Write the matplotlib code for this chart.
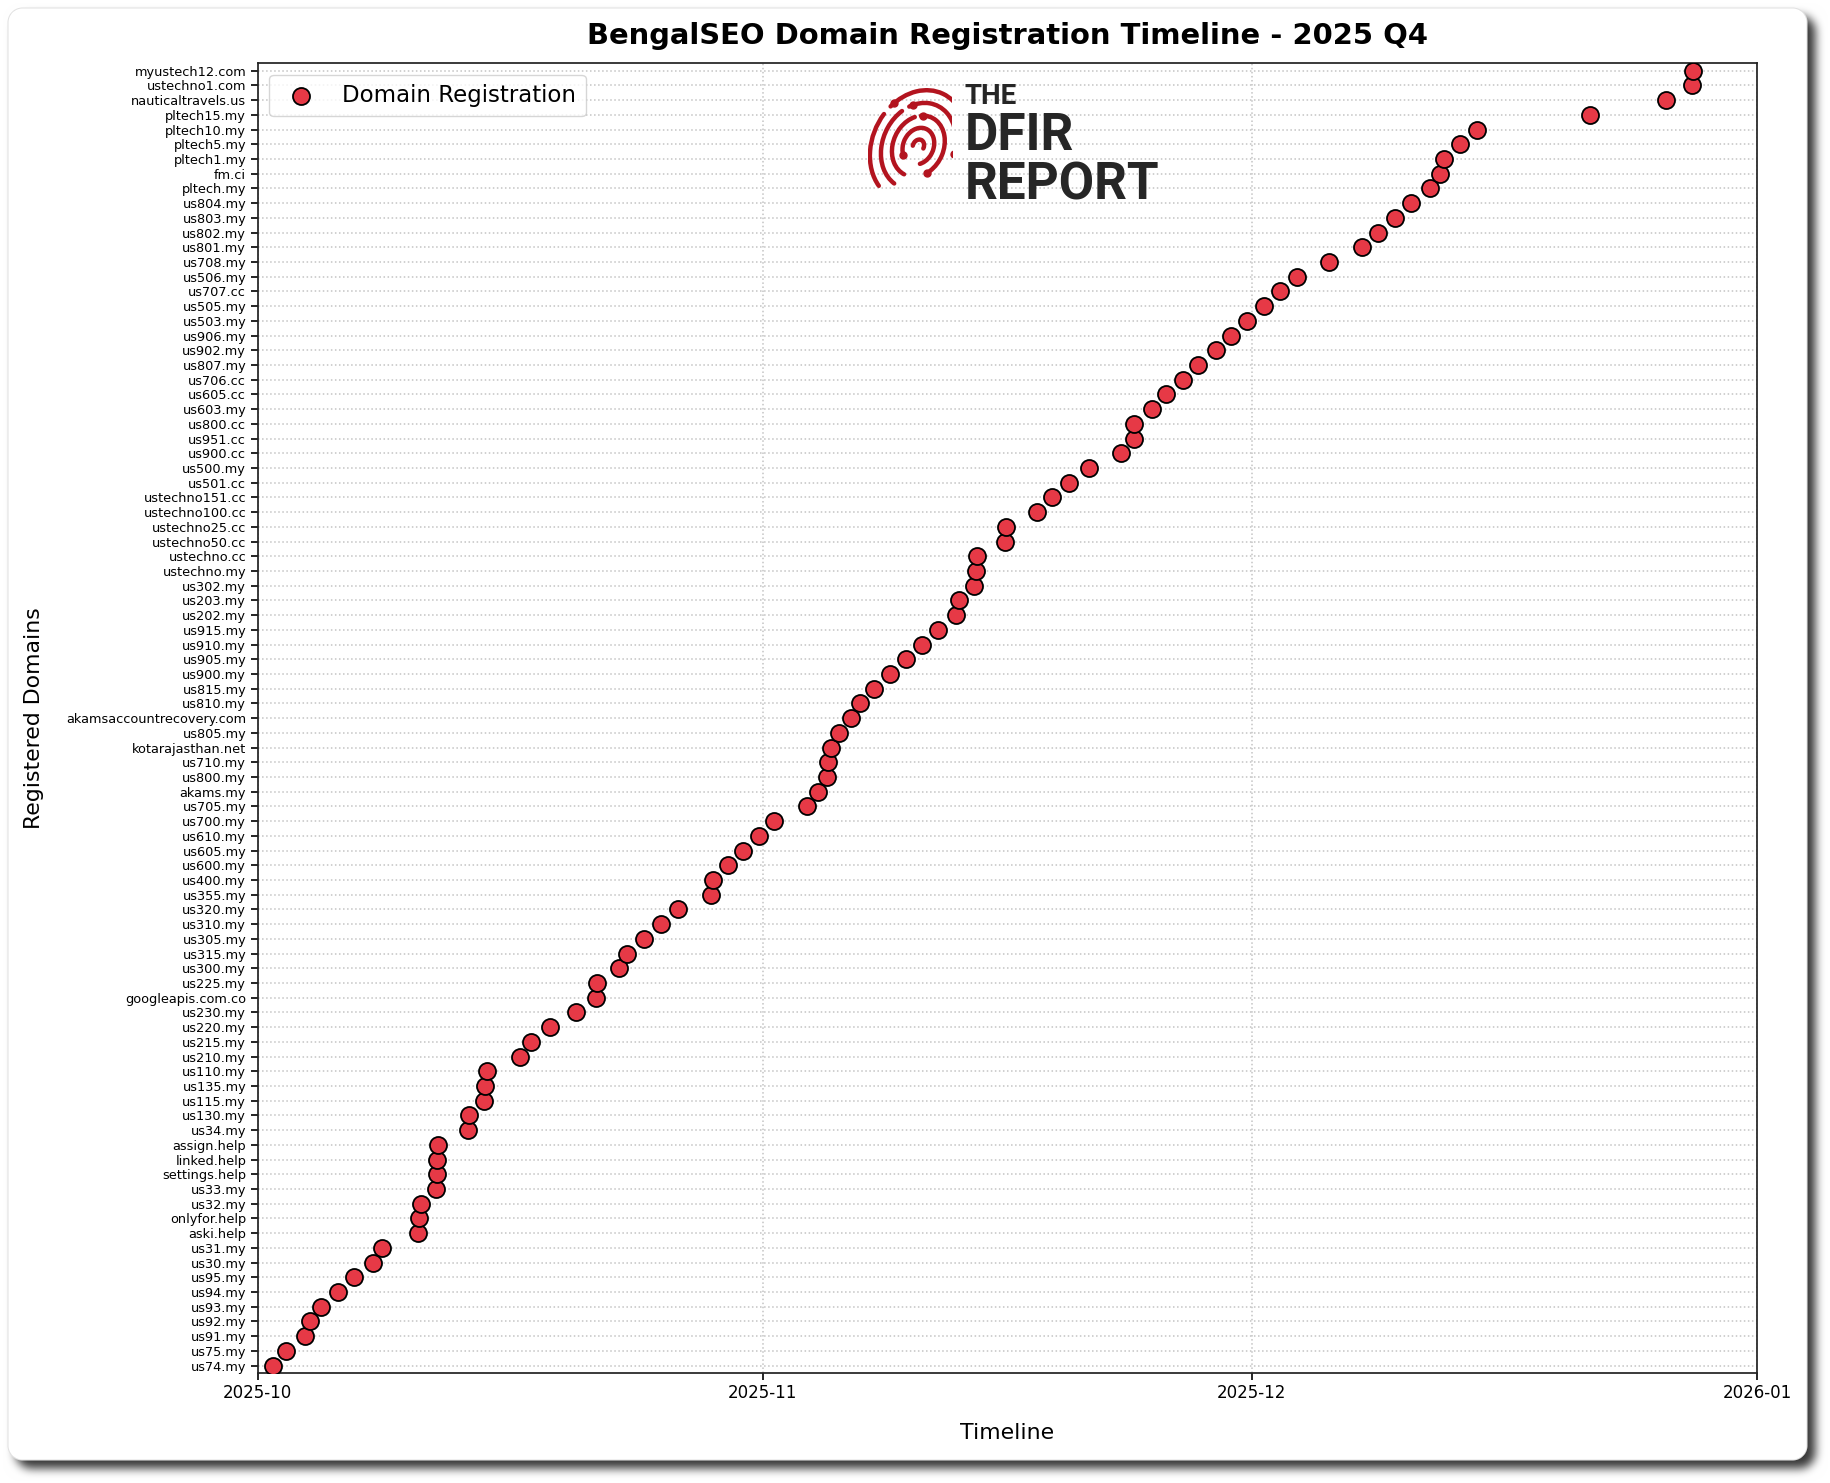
import numpy as np
import pandas as pd
import matplotlib
matplotlib.use("Agg")
import matplotlib.pyplot as plt
import matplotlib.dates as mdates
from matplotlib.patches import Arc

# ---------------- data (bottom row first) ----------------
domains = ["us74.my", "us75.my", "us91.my", "us92.my", "us93.my", "us94.my", "us95.my",
           "us30.my", "us31.my", "aski.help", "onlyfor.help", "us32.my", "us33.my",
           "settings.help", "linked.help", "assign.help", "us34.my", "us130.my", "us115.my",
           "us135.my", "us110.my", "us210.my", "us215.my", "us220.my", "us230.my",
           "googleapis.com.co", "us225.my", "us300.my", "us315.my", "us305.my", "us310.my",
           "us320.my", "us355.my", "us400.my", "us600.my", "us605.my", "us610.my", "us700.my",
           "us705.my", "akams.my", "us800.my", "us710.my", "kotarajasthan.net", "us805.my",
           "akamsaccountrecovery.com", "us810.my", "us815.my", "us900.my", "us905.my",
           "us910.my", "us915.my", "us202.my", "us203.my", "us302.my", "ustechno.my",
           "ustechno.cc", "ustechno50.cc", "ustechno25.cc", "ustechno100.cc", "ustechno151.cc",
           "us501.cc", "us500.my", "us900.cc", "us951.cc", "us800.cc", "us603.my", "us605.cc",
           "us706.cc", "us807.my", "us902.my", "us906.my", "us503.my", "us505.my", "us707.cc",
           "us506.my", "us708.my", "us801.my", "us802.my", "us803.my", "us804.my", "pltech.my",
           "fm.ci", "pltech1.my", "pltech5.my", "pltech10.my", "pltech15.my",
           "nauticaltravels.us", "ustechno1.com", "myustech12.com"]

registered = ["2025-10-01 22:30", "2025-10-02 17:45", "2025-10-03 21:00", "2025-10-04 05:15",
              "2025-10-04 21:20", "2025-10-05 21:35", "2025-10-06 22:35", "2025-10-08 01:10",
              "2025-10-08 14:55", "2025-10-10 20:35", "2025-10-10 20:55", "2025-10-11 00:00",
              "2025-10-11 22:05", "2025-10-12 00:30", "2025-10-12 00:45", "2025-10-12 01:00",
              "2025-10-13 21:35", "2025-10-13 23:30", "2025-10-14 21:35", "2025-10-14 22:50",
              "2025-10-15 01:00", "2025-10-17 02:10", "2025-10-17 18:30", "2025-10-18 22:50",
              "2025-10-20 12:45", "2025-10-21 18:30", "2025-10-21 19:40", "2025-10-23 03:50",
              "2025-10-23 15:35", "2025-10-24 16:35", "2025-10-25 18:15", "2025-10-26 19:10",
              "2025-10-28 19:10", "2025-10-28 23:00", "2025-10-29 20:10", "2025-10-30 18:30",
              "2025-10-31 18:00", "2025-11-01 17:00", "2025-11-03 17:15", "2025-11-04 09:10",
              "2025-11-04 21:50", "2025-11-05 00:00", "2025-11-05 03:50", "2025-11-05 16:35",
              "2025-11-06 09:50", "2025-11-06 22:35", "2025-11-07 19:40", "2025-11-08 19:10",
              "2025-11-09 18:55", "2025-11-10 18:30", "2025-11-11 18:00", "2025-11-12 20:40",
              "2025-11-13 01:25", "2025-11-13 23:00", "2025-11-14 01:55", "2025-11-14 03:35",
              "2025-11-15 20:40", "2025-11-15 22:20", "2025-11-17 19:55", "2025-11-18 18:00",
              "2025-11-19 18:58", "2025-11-21 00:30", "2025-11-22 23:30", "2025-11-23 18:00",
              "2025-11-23 19:10", "2025-11-24 21:07", "2025-11-25 18:14", "2025-11-26 18:00",
              "2025-11-27 17:31", "2025-11-28 19:26", "2025-11-29 18:00", "2025-11-30 17:31",
              "2025-12-01 17:17", "2025-12-02 17:46", "2025-12-03 18:43", "2025-12-05 18:00",
              "2025-12-07 18:29", "2025-12-08 18:00", "2025-12-09 19:12", "2025-12-10 18:43",
              "2025-12-11 22:34", "2025-12-12 13:26", "2025-12-12 19:12", "2025-12-13 18:43",
              "2025-12-14 18:58", "2025-12-21 18:29", "2025-12-26 10:19", "2025-12-28 00:43",
              "2025-12-28 02:10"]

x_range = ["2025-10-01", "2026-01-01"]
title = "BengalSEO Domain Registration Timeline - 2025 Q4"

# ---------------- figure & card background ----------------
W, H = 1830, 1483
fig = plt.figure(figsize=(W / 100, H / 100), dpi=100)
fig.patch.set_facecolor("white")

yy, xx = np.mgrid[0:H, 0:W].astype(float)


def rr_dist(x0, y0, x1, y1, r):
    qx = np.maximum(np.maximum(x0 + r - xx, xx - (x1 - r)), 0)
    qy = np.maximum(np.maximum(y0 + r - yy, yy - (y1 - r)), 0)
    inner = np.minimum(np.maximum(x0 + r - xx, xx - (x1 - r)), 0)
    inner2 = np.minimum(np.maximum(y0 + r - yy, yy - (y1 - r)), 0)
    return np.sqrt(qx ** 2 + qy ** 2) + np.maximum(inner, inner2) - r


def blur1d(a, k, axis):
    a = np.moveaxis(a, axis, -1)
    p = np.pad(a, [(0, 0), (k + 1, k)], mode="edge")
    c = np.cumsum(p, axis=-1)
    out = (c[..., 2 * k + 1:] - c[..., :-(2 * k + 1)]) / (2 * k + 1)
    return np.moveaxis(out, -1, axis)


shadow = np.clip(0.5 - rr_dist(15, 15, 1815, 1468, 16), 0, 1)
for _ in range(3):
    shadow = blur1d(shadow, 4, 0)
    shadow = blur1d(shadow, 4, 1)
card_d = rr_dist(7, 7, 1807, 1460, 15)
card = np.clip(0.5 - card_d, 0, 1)
border = np.clip(1 - np.abs(card_d + 0.5), 0, 1)
val = 1 - 0.78 * shadow
val = val * (1 - card) + 1.0 * card
val = val * (1 - 0.12 * border)
rgb = np.dstack([val, val, val])
fig.figimage(rgb, xo=0, yo=0, origin="upper", zorder=-5)

# ---------------- main axes ----------------
ax = fig.add_axes([0.1408, 0.0742, 0.8193, 0.8831])
ax.set_facecolor("white")

t = pd.to_datetime(registered)
ypos = np.arange(len(domains))
ax.scatter(t, ypos, s=150, c="#e63946", edgecolors="black", linewidths=1.3,
           zorder=3, label="Domain Registration")

ax.set_yticks(ypos)
ax.set_yticklabels(domains, fontsize=9.25)
ax.set_ylim(-0.5, len(domains) - 0.5)
ax.set_xlim(pd.Timestamp(x_range[0]), pd.Timestamp(x_range[1]))
ax.xaxis.set_major_locator(mdates.MonthLocator())
ax.xaxis.set_major_formatter(mdates.DateFormatter("%Y-%m"))
ax.tick_params(axis="x", labelsize=12, length=4.8, width=1.2)
ax.tick_params(axis="y", length=4.8, width=1.2)
ax.grid(True, linestyle=":", color="#c4c4c4", linewidth=1.1)
ax.set_axisbelow(True)
for sp in ax.spines.values():
    sp.set_linewidth(1.25)
    sp.set_color("#222222")

ax.set_title(title, fontsize=20.9, fontweight="bold", pad=13.8)
ax.set_xlabel("Timeline", fontsize=15.8, labelpad=15)
ax.set_ylabel("Registered Domains", fontsize=15.8, labelpad=16)
ax.legend(loc="upper left", fontsize=16.5)

# ---------------- logo watermark ----------------
logo_col = "#262626"
logo_font = ["Roboto", "DejaVu Sans"]
the_txt = fig.text(0.527, 1 - 104 / H, "THE", fontsize=20, fontweight="bold",
                   color=logo_col, family=logo_font, zorder=5)
fig.canvas.draw()
the_bottom = the_txt.get_window_extent().y0 / H
fig.text(0.527, the_bottom - 0.001, "DFIR\nREPORT", fontsize=37, fontweight="bold",
         color=logo_col, family=logo_font, zorder=5, va="top", linespacing=0.97)

lax = fig.add_axes([0.4743, 0.8651, 0.0459, 0.0755])
lax.set_xlim(-1, 1)
lax.set_ylim(-1.33, 1.33)
lax.axis("off")
fp_col = "#b3141f"
ridges = [(1.10, 30, 150), (1.10, 162, 250), (0.85, 10, 128), (0.85, 140, 262),
          (0.60, -40, 110), (0.60, 122, 268), (0.36, -60, 230), (0.13, 0, 200)]
cx, cy = 0.2, -0.05
for r, a1, a2 in ridges:
    arc = Arc((cx, cy), 2 * r, 2.5 * r, angle=-25, theta1=a1, theta2=a2,
              lw=3.2, color=fp_col)
    arc.set_capstyle("round")
    lax.add_patch(arc)
ends = [(1.10, 150), (0.85, 128), (0.60, 110), (0.36, 230), (0.85, 10), (0.60, -40)]
for r, a in ends:
    ang = np.deg2rad(a)
    px = r * np.cos(ang)
    py = 1.25 * r * np.sin(ang)
    rot = np.deg2rad(-25)
    lax.plot(cx + px * np.cos(rot) - py * np.sin(rot),
             cy + px * np.sin(rot) + py * np.cos(rot), "o", color=fp_col, ms=5)

fig.savefig("out.png", dpi=100)
